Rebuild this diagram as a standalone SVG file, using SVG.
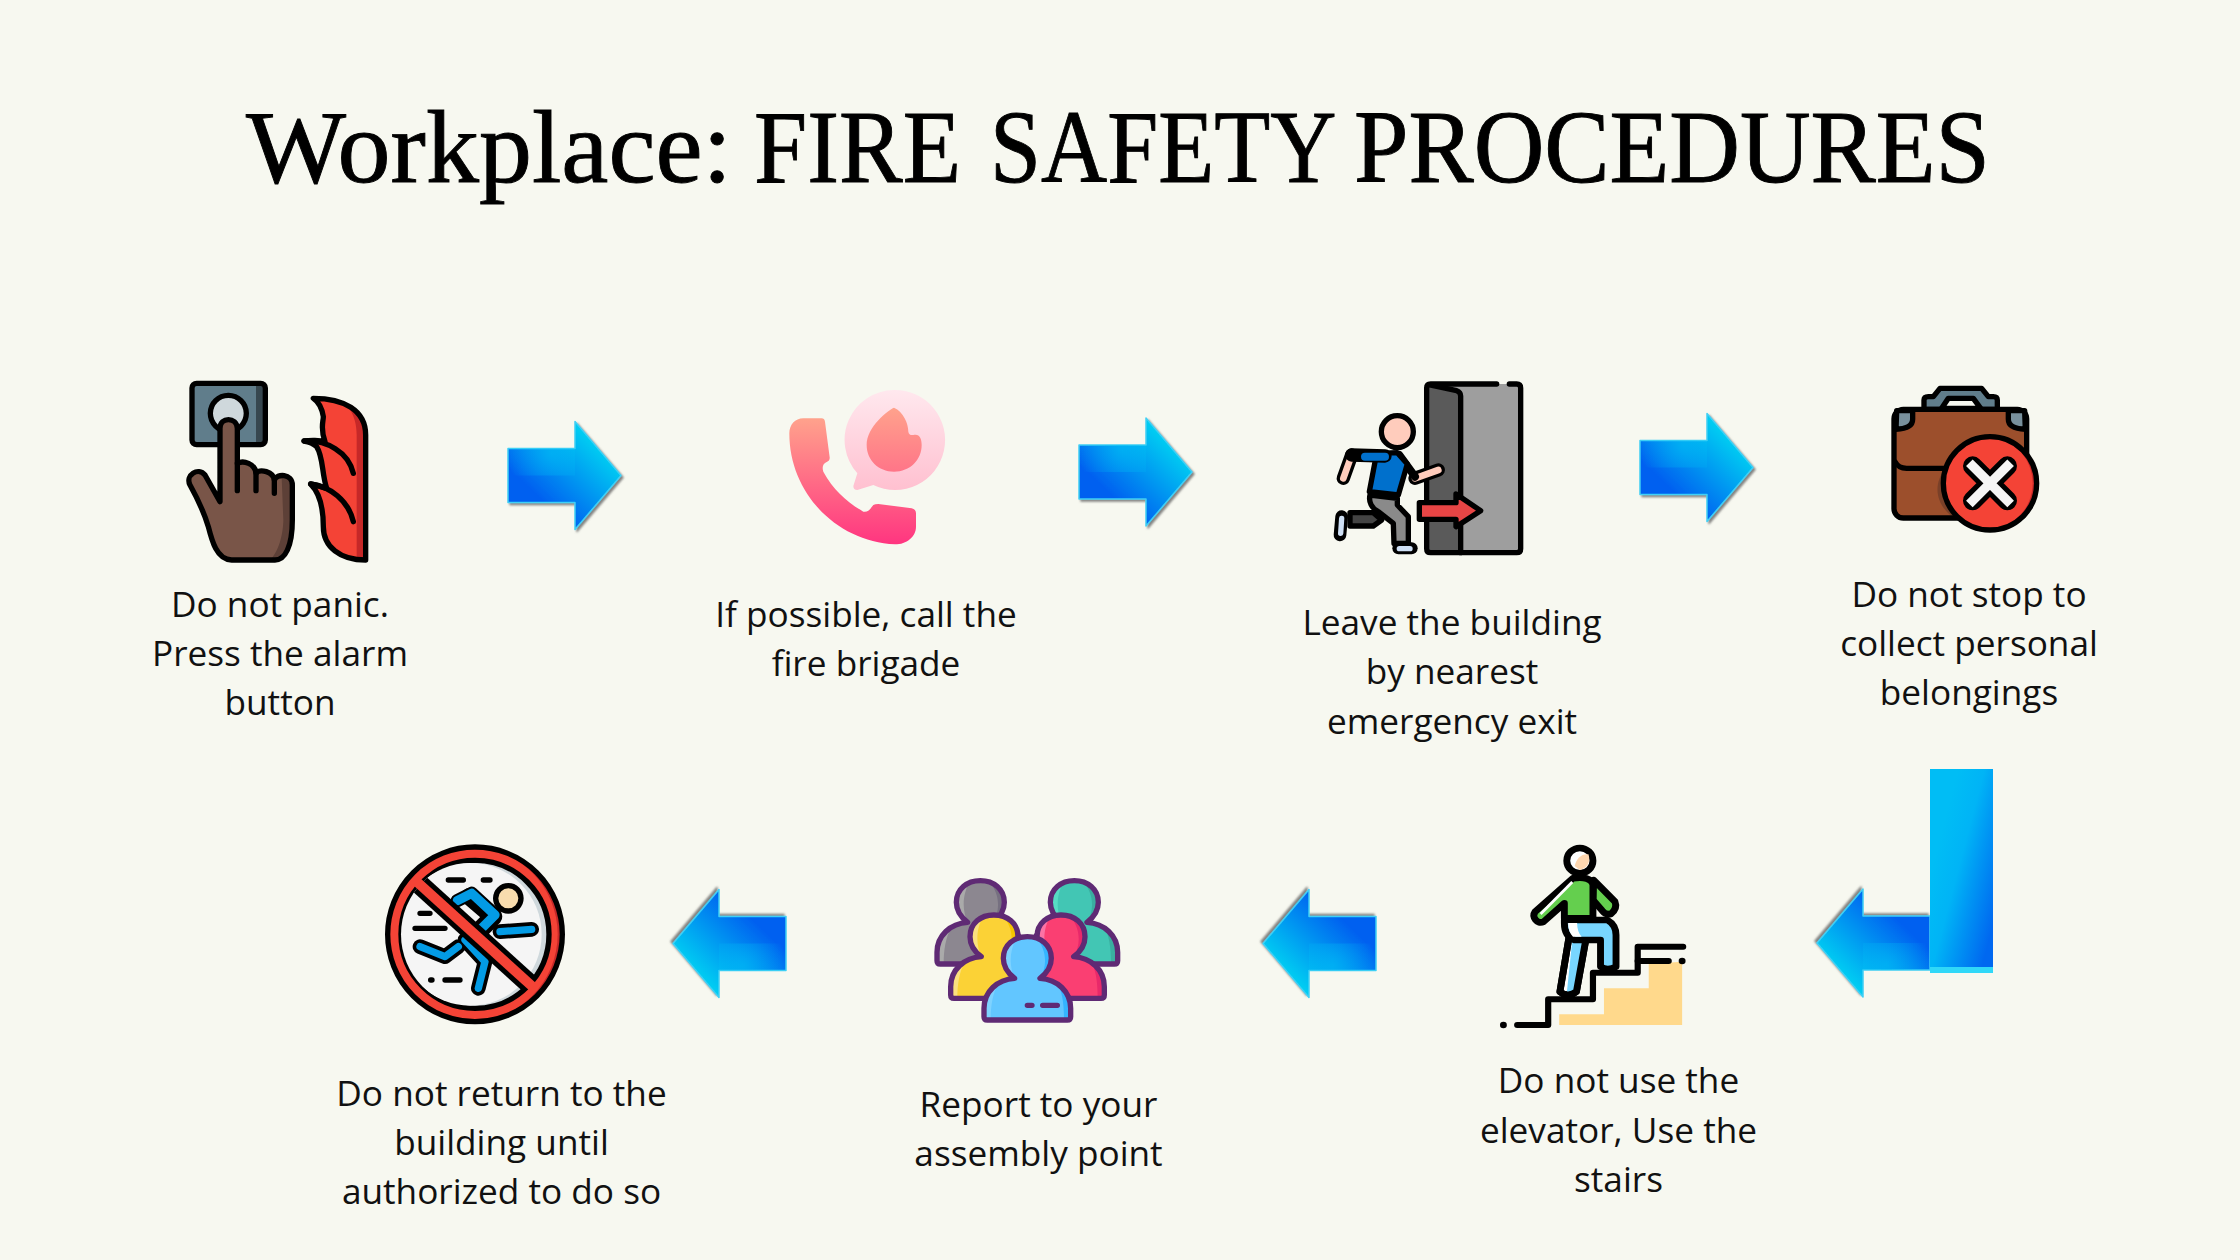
<svg xmlns="http://www.w3.org/2000/svg" xmlns:xlink="http://www.w3.org/1999/xlink" width="2240" height="1260" viewBox="0 0 2240 1260">
<style>
.t{font-family:"Open Sans","Liberation Sans",sans-serif;font-size:35.2px;fill:#111;text-anchor:middle}
.title{font-family:"Liberation Serif",serif;font-size:103px;fill:#000;stroke:#000;stroke-width:.9}
.k{stroke:#000;stroke-width:16;stroke-linecap:round;stroke-linejoin:round}
.n{fill:none}
.kt{stroke:#000;stroke-linecap:round;stroke-linejoin:round;fill:none}
.p{stroke:#5f2a74;stroke-width:16;stroke-linejoin:round;stroke-linecap:round}
</style>
<defs>
<linearGradient id="ag" gradientUnits="userSpaceOnUse" x1="-22" y1="-28" x2="-76" y2="28"><stop offset="0" stop-color="#00cdf2"/><stop offset="1" stop-color="#0060f0"/></linearGradient>
<radialGradient id="ag2" gradientUnits="userSpaceOnUse" cx="-70" cy="-22" r="45"><stop offset="0" stop-color="#00c0f5" stop-opacity=".55"/><stop offset="1" stop-color="#00c0f5" stop-opacity="0"/></radialGradient>
<linearGradient id="rg" x1=".1" y1=".4" x2=".8" y2="1"><stop offset="0" stop-color="#00bdf5"/><stop offset=".35" stop-color="#00b4f6"/><stop offset="1" stop-color="#0068f0"/></linearGradient>
<filter id="sh" x="-15%" y="-15%" width="130%" height="130%"><feDropShadow dx="2" dy="2" stdDeviation="1.2" flood-color="#666" flood-opacity=".8"/></filter>
<g id="arrow" filter="url(#sh)">
<path id="ap" d="M-113-27H-46V-54L0 0-46 54V27H-113Z" fill="url(#ag)" stroke="#3fd0f5" stroke-width="1.5" stroke-linejoin="round"/>
<path d="M-113-27H-46V0H-113Z" fill="url(#ag2)"/>
</g>
<linearGradient id="ph" x1="0" y1="0" x2="0" y2="1"><stop offset="0" stop-color="#ffa28c"/><stop offset="1" stop-color="#ff3580"/></linearGradient>
<linearGradient id="bb" x1="0" y1="0" x2="0" y2="1"><stop offset="0" stop-color="#ffe8ee"/><stop offset="1" stop-color="#ffc0d0"/></linearGradient>
<linearGradient id="fl" x1="0" y1="0" x2="0" y2="1"><stop offset="0" stop-color="#ffa28c"/><stop offset="1" stop-color="#ff7588"/></linearGradient>
<path id="pp" d="M-38 125C-65 105-72 80-72 65-72 25-40 0 0 0 40 0 72 25 72 65 72 80 65 105 38 125 90 128 130 165 130 215V240Q130 250 120 250H-120Q-130 250-130 240V215C-130 165-90 128-38 125Z"/>
<clipPath id="pc"><use xlink:href="#pp"/></clipPath>
<path id="pd" d="M25 0C60 40 60 90 38 125L85 130C105 160 110 200 110 250H135V0Z"/>
<path id="pl" d="M-30 0C-55 40-55 90-38 125L-85 135C-105 170-110 210-110 250H-135V0Z"/>
<clipPath id="ic"><circle cx="315" cy="313" r="222"/></clipPath>
<clipPath id="oc"><circle cx="315" cy="313" r="262"/></clipPath>
<clipPath id="xc"><circle cx="1110" cy="340" r="140"/></clipPath>
</defs>
<rect width="2240" height="1260" fill="#f7f8f0"/>
<text class="title" y="182"><tspan x="246" textLength="486" lengthAdjust="spacingAndGlyphs">Workplace:</tspan> <tspan x="754" textLength="207" lengthAdjust="spacingAndGlyphs">FIRE</tspan> <tspan x="990" textLength="343" lengthAdjust="spacingAndGlyphs">SAFETY</tspan> <tspan x="1354" textLength="636" lengthAdjust="spacingAndGlyphs">PROCEDURES</tspan></text>

<g id="connectors">
<use xlink:href="#arrow" transform="translate(621,475.5)"/>
<use xlink:href="#arrow" transform="translate(1192,472)"/>
<use xlink:href="#arrow" transform="translate(1753,467.5)"/>
<use xlink:href="#arrow" transform="translate(1817,943) rotate(180)"/>
<rect x="1930" y="769" width="63" height="204" fill="url(#rg)"/>
<rect x="1930" y="967" width="63" height="6" fill="#30d8f8"/>
<use xlink:href="#arrow" transform="translate(1263,943.5) rotate(180)"/>
<use xlink:href="#arrow" transform="translate(673,943.5) rotate(180)"/>
</g>

<g id="node-alarm">
<g transform="translate(160,360) scale(.33333)">
<rect x="96" y="70" width="220" height="184" rx="14" fill="#607d8b"/>
<rect x="288" y="70" width="28" height="184" fill="#37474f"/>
<rect x="96" y="70" width="220" height="184" rx="14" class="k n"/>
<circle cx="205" cy="160" r="54" fill="#cfd8dc" class="k"/>
<path d="M180 425V205C180 170 230 170 232 205V310C250 300 285 310 288 340 300 325 340 335 343 360 350 340 397 340 397 375V480C397 560 375 600 345 600H215C170 600 155 540 145 500 130 450 115 420 90 375 75 345 115 320 135 345Z" fill="#795548"/>
<path d="M365 352C385 352 397 365 397 380V480C397 560 375 600 345 600L335 595C365 560 370 500 370 480Z" fill="#5d4037"/>
<path d="M180 425V205C180 170 230 170 232 205V310C250 300 285 310 288 340 300 325 340 335 343 360 350 340 397 340 397 375V480C397 560 375 600 345 600H215C170 600 155 540 145 500 130 450 115 420 90 375 75 345 115 320 135 345Z" class="k n"/>
<path d="M232 310V392M288 340V392M343 360V400" class="k n"/>
<path d="M460 115C550 115 617 150 617 225V600C540 600 490 560 490 500 490 440 480 400 452 372 475 375 495 385 500 385 485 340 490 290 470 260 460 250 445 245 432 243 450 240 480 240 495 245 480 205 490 185 490 170 485 140 475 125 460 115Z" fill="#f44336"/>
<path d="M555 130C585 160 590 200 590 225V595L617 600V225C617 170 590 135 555 130Z" fill="#c62828"/>
<path d="M460 115C550 115 617 150 617 225V600C540 600 490 560 490 500 490 440 480 400 452 372 475 375 495 385 500 385 485 340 490 290 470 260 460 250 445 245 432 243 450 240 480 240 495 245 480 205 490 185 490 170 485 140 475 125 460 115Z" class="k n"/>
<path d="M432 243C500 240 565 275 580 340M452 372C510 380 565 420 580 485" class="k n"/>
</g>
<text class="t" x="280" y="617">Do not panic.</text>
<text class="t" x="280" y="666">Press the alarm</text>
<text class="t" x="280" y="715">button</text>
</g>

<g id="node-call">
<g transform="translate(760,370) scale(.33333)">
<path d="M130 145H185Q193 145 195 155L209 262Q210 272 200 276C190 280 185 290 190 305 220 360 260 395 310 425 325 428 332 415 340 405Q345 402 355 402L455 415Q468 418 468 430V470C468 500 440 523 405 523 230 515 88 370 88 190 88 165 105 145 130 145Z" fill="url(#ph)"/>
<path d="M402 60A150 150 0 1 1 340 345L292 360Q280 360 280 348L292 310A150 150 0 0 1 402 60Z" fill="url(#bb)"/>
<path d="M402 113C430 125 445 160 445 185Q447 197 460 195C478 190 485 205 485 225 485 270 450 305 402 305 355 305 320 270 320 225 320 170 385 120 402 113Z" fill="url(#fl)"/>
</g>
<text class="t" x="866" y="627">If possible, call the</text>
<text class="t" x="866" y="676">fire brigade</text>
</g>

<g id="node-exit">
<g transform="translate(1310,360) scale(.33333)">
<rect x="350" y="72" width="282" height="506" fill="#9e9e9e"/>
<path d="M350 72L452 96V578H350Z" fill="#5a5a5a"/>
<path d="M560 72H362Q350 72 350 84V566Q350 578 362 578H620Q632 578 632 566V84Q632 72 620 72H598" class="k n"/>
<path d="M356 74L440 92Q452 96 452 108V578" class="k n"/>
<path d="M328 428H438V402L512 452 438 500V478H328Z" fill="#e84545" class="k"/>
<path d="M315 355L385 330" class="kt" stroke-width="40"/>
<path d="M315 355L385 330" stroke="#ffccbc" stroke-width="20" stroke-linecap="round" fill="none"/>
<path d="M268 285L315 350" class="kt" stroke-width="24"/>
<path d="M200 280L262 278 292 312 265 405 178 395Z" fill="#0070cc" class="k"/>
<path d="M125 285L100 355" class="kt" stroke-width="40"/>
<path d="M125 285L100 355" stroke="#ffccbc" stroke-width="20" stroke-linecap="round" fill="none"/>
<path d="M125 285L225 288" class="kt" stroke-width="40"/>
<path d="M165 290H225" stroke="#0070cc" stroke-width="24" stroke-linecap="round" fill="none"/>
<path d="M120 458H190L215 480 190 498H120Z" fill="#444" class="k"/>
<path d="M95 470L90 525" class="kt" stroke-width="38"/>
<path d="M95 475L92 520" stroke="#cfe0f5" stroke-width="16" stroke-linecap="round" fill="none"/>
<path d="M180 405L262 415V435L295 470V550H252L250 490 205 455C185 445 175 425 180 405Z" fill="#8a8a8a" class="k"/>
<path d="M265 565H305" class="kt" stroke-width="36"/>
<path d="M268 566H300" stroke="#cfe0f5" stroke-width="16" stroke-linecap="round" fill="none"/>
<circle cx="262" cy="215" r="48" fill="#ffccbc" class="k"/>
</g>
<text class="t" x="1452" y="635">Leave the building</text>
<text class="t" x="1452" y="684">by nearest</text>
<text class="t" x="1452" y="733.5">emergency exit</text>
</g>

<g id="node-belongings">
<g transform="translate(1620,370) scale(.33333)">
<path d="M912 118V90Q912 80 925 80H940L960 55H1085L1105 80H1120Q1132 80 1132 90V118Z" fill="#607d8b" class="k"/>
<path d="M965 115L985 85H1060L1082 115Z" fill="#f7f8f0" class="k"/>
<rect x="822" y="118" width="398" height="326" rx="28" fill="#9c4f2c"/>
<path d="M975 298C940 340 945 400 995 438H1100V298Z" fill="#7a4028"/>
<rect x="822" y="118" width="398" height="326" rx="28" class="k n"/>
<path d="M830 122H878V148Q878 176 828 178Z" fill="#78909c" class="k"/>
<path d="M1214 122H1165V148Q1165 176 1216 178Z" fill="#78909c" class="k"/>
<path d="M825 275Q835 295 860 295H975" class="k n"/>
<circle cx="1110" cy="340" r="140" fill="#c62828"/>
<g clip-path="url(#xc)"><circle cx="1098" cy="340" r="140" fill="#f44336"/></g>
<circle cx="1110" cy="340" r="140" class="k n"/>
<path d="M1058 288L1162 392M1162 288L1058 392" class="kt" stroke-width="58"/>
<path d="M1058 288L1162 392M1162 288L1058 392" stroke="#f5f5f5" stroke-width="28" stroke-linecap="square" fill="none"/>
</g>
<text class="t" x="1969" y="607">Do not stop to</text>
<text class="t" x="1969" y="656">collect personal</text>
<text class="t" x="1969" y="705">belongings</text>
</g>

<g id="node-stairs">
<g transform="translate(1480,760) scale(.34435,.33333)">
<path d="M230 795V763H360V685H490V612L587 605V795Z" fill="#ffd98c"/>
<g class="kt" stroke-width="18">
<path d="M108 795H198V718H328V638H458V560H590"/>
<path d="M458 603H548"/>
</g>
<circle cx="68" cy="795" r="10"/><circle cx="587" cy="603" r="10"/>
<g style="stroke:#000;stroke-width:20;stroke-linejoin:round;stroke-linecap:round">
<path d="M330 360L392 425Q400 445 380 462 365 465 355 452L328 420Z" fill="#64cf4e"/>
<path d="M258 535L232 695Q255 715 280 695L308 535Z" fill="#fff"/>
<path d="M268 540L252 700 280 695 308 540Z" fill="#78d6ff" style="stroke:none"/>
<path d="M258 535L232 695Q255 715 280 695L308 535" fill="none"/>
<path d="M245 480H370Q395 495 395 525V620Q370 635 350 620V540H275Q245 530 245 490Z" fill="#78d6ff"/>
<path d="M270 355C300 350 325 355 328 375V475H245V430L185 485C165 495 150 470 160 455Z" fill="#64cf4e"/>
<circle cx="290" cy="302" r="38" fill="#fff"/>
</g>
<path d="M275 318C280 295 295 280 315 283 322 305 312 325 290 330Z" fill="#ffd7b0"/>
<path d="M176 462L268 366" stroke="#fff" stroke-width="8" fill="none"/>
<path d="M256 489H282Q282 515 295 530H270Q256 515 256 489Z" fill="#fff"/>
</g>
<text class="t" x="1618.5" y="1093">Do not use the</text>
<text class="t" x="1618.5" y="1142.5">elevator, Use the</text>
<text class="t" x="1618.5" y="1192">stairs</text>
</g>

<g id="node-assembly">
<g transform="translate(920,860) scale(.33333)">
<g transform="translate(181,62)"><use xlink:href="#pp" fill="#8c8790"/><g clip-path="url(#pc)"><use xlink:href="#pd" fill="#767080"/><use xlink:href="#pl" fill="#aaaaaa"/></g><use xlink:href="#pp" class="p" fill="none"/></g>
<g transform="translate(463,62)"><use xlink:href="#pp" fill="#42c6b4"/><g clip-path="url(#pc)"><use xlink:href="#pd" fill="#3aaea0"/><use xlink:href="#pl" fill="#56dcc4"/></g><use xlink:href="#pp" class="p" fill="none"/></g>
<g transform="translate(222,165)"><use xlink:href="#pp" fill="#fbd236"/><g clip-path="url(#pc)"><use xlink:href="#pd" fill="#f5c400"/><use xlink:href="#pl" fill="#fbe07f"/></g><use xlink:href="#pp" class="p" fill="none"/></g>
<g transform="translate(423,165)"><use xlink:href="#pp" fill="#fa3f72"/><g clip-path="url(#pc)"><use xlink:href="#pd" fill="#e8296a"/><use xlink:href="#pl" fill="#fc73a5"/></g><use xlink:href="#pp" class="p" fill="none"/></g>
<g transform="translate(322,230)"><use xlink:href="#pp" fill="#62c6ff"/><g clip-path="url(#pc)"><use xlink:href="#pd" fill="#34b4ff"/><use xlink:href="#pl" fill="#7ed2ff"/></g><use xlink:href="#pp" class="p" fill="none"/></g>
<path d="M322 436H336M368 436H412" class="p" fill="none"/>
</g>
<text class="t" x="1038.5" y="1117">Report to your</text>
<text class="t" x="1038.5" y="1166">assembly point</text>
</g>

<g id="node-noreturn">
<g transform="translate(370,830) scale(.33333)">
<circle cx="315" cy="313" r="262" fill="#c62828"/>
<g clip-path="url(#oc)"><circle cx="301" cy="313" r="262" fill="#f44336"/></g>
<circle cx="315" cy="313" r="262" class="k n"/>
<circle cx="315" cy="313" r="222" fill="#cfd8dc" class="k"/>
<g clip-path="url(#ic)"><circle cx="301" cy="313" r="214" fill="#f5f5f5"/></g>
<path d="M235 150H280M340 150H360M150 250H180M135 295H225M182 450H186M225 450H270" class="k n"/>
<path d="M390 305L485 298M150 350L225 380 265 350M285 330L345 395 325 475" class="kt" stroke-width="44"/>
<path d="M300 200L370 260 320 310" class="kt" stroke-width="54"/>
<path d="M262 212L305 190 375 255 325 305" class="kt" stroke-width="40"/>
<path d="M390 305L485 298M150 350L225 380 265 350M285 330L345 395 325 475" stroke="#039be5" stroke-width="22" fill="none" stroke-linecap="round" stroke-linejoin="round"/>
<path d="M262 212L305 190 375 255 325 305" stroke="#039be5" stroke-width="28" fill="none" stroke-linejoin="round" stroke-linecap="round"/>
<circle cx="415" cy="205" r="38" fill="#f8dcae" class="k"/>
<g clip-path="url(#ic)"><path d="M140 155L490 472" stroke="#000" stroke-width="60" fill="none"/></g>
<path d="M140 155L490 472" stroke="#f44336" stroke-width="30" fill="none"/>
</g>
<text class="t" x="501.5" y="1105.5">Do not return to the</text>
<text class="t" x="501.5" y="1154.5">building until</text>
<text class="t" x="501.5" y="1203.5">authorized to do so</text>
</g>
</svg>
